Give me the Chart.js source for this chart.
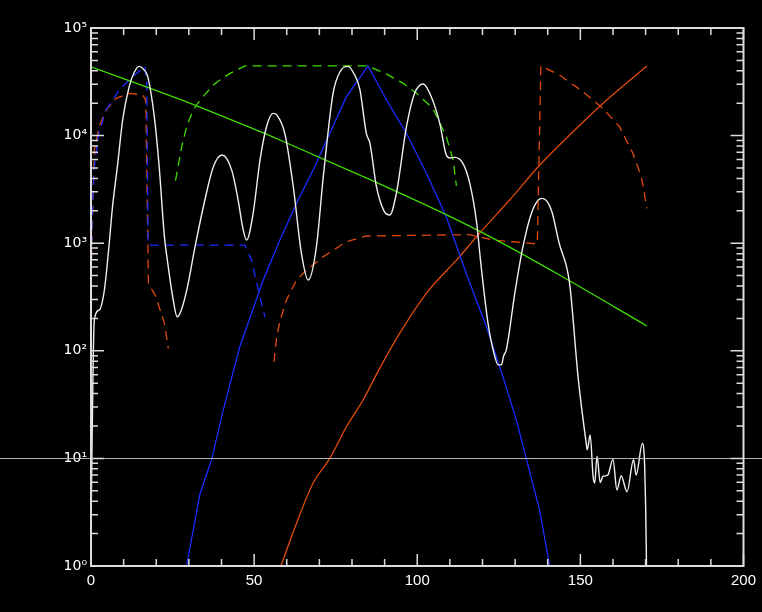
<!DOCTYPE html>
<html>
<head>
<meta charset="utf-8">
<script src="https://cdn.jsdelivr.net/npm/chart.js@4"></script>
<style>
  html, body { margin: 0; padding: 0; background: #000; }
  #wrap { width: 762px; height: 612px; }
</style>
</head>
<body>
<div id="wrap"><canvas id="c" width="762" height="612"></canvas></div>
<script>
// ---------- data ----------
const whiteX = [0, 1.0, 2.5, 4.1, 5.4, 6.6, 8.2, 9.7, 11.7, 13.3, 14.8, 16.2, 17.4, 19.4, 20.9, 22.5, 23.4, 25.2, 26.4, 27.3, 29.3, 31.9, 34.9, 37.5, 40.2, 43.1, 45.1, 46.5, 47.7, 49.7, 51.8, 53.8, 55.8, 57.0, 59.4, 62.0, 64.5, 66.6, 69.1, 71.2, 74.2, 76.5, 78.8, 80.5, 82.4, 84.4, 85.5, 87.5, 89.8, 91.6, 93.6, 96.7, 99.2, 101.8, 104.3, 106.9, 108.9, 110.0, 111.5, 114.0, 116.1, 118.1, 119.6, 121.7, 123.5, 124.8, 125.8, 126.5, 127.3, 129.9, 132.4, 135.0, 137.0, 138.3, 141.1, 143.5, 146.7, 149.3, 151.8, 152.1, 153.0, 153.9, 154.4, 155.1, 156.1, 156.9, 158.4, 160.0, 161.2, 162.5, 164.3, 166.3, 167.1, 169.0, 169.7, 170.0, 170.2, 170.4];
const whiteY = [2.4, 193, 239, 367, 865, 2185, 5520, 13960, 28500, 39000, 44000, 41000, 35300, 15000, 5140, 1150, 698, 297, 207, 223, 360, 929, 2520, 5140, 6600, 4800, 2520, 1400, 1070, 1900, 5930, 12100, 16100, 15500, 10500, 3350, 805, 455, 929, 4150, 24700, 40000, 44000, 38000, 27000, 10500, 8480, 3350, 2000, 1830, 2910, 12100, 24700, 30200, 23000, 13000, 6600, 6200, 6280, 5520, 3600, 1640, 605, 180, 95, 74, 74, 90, 102, 342, 929, 1900, 2500, 2610, 2035, 1000, 424, 57, 13.8, 12, 16.5, 6.8, 5.9, 10.5, 5.95, 6.8, 7.0, 9.8, 5.1, 6.9, 4.9, 9.7, 7.0, 13.8, 8.7, 3.7, 1.5, 0.5];

const greenX = [0, 27.3, 48.7, 57.9, 82.4, 107.9, 125.3, 143.6, 170.4];
const greenY = [43600, 21700, 11900, 9100, 4300, 1900, 1030, 506, 170];

const blueX = [29.3, 33.4, 37.0, 40.5, 45.6, 52.8, 57.9, 63.0, 68.1, 73.2, 78.3, 84.9, 90.6, 96.7, 102.8, 108.9, 115.0, 121.2, 126.3, 130.4, 133.4, 137.5, 140.6];
const blueY = [1.0, 4.7, 9.8, 28, 109, 455, 1070, 2350, 4790, 10500, 23000, 44400, 21400, 10500, 4460, 1760, 525, 167, 57, 22.7, 10.0, 3.3, 1.0];

const orangeX = [58.2, 63.0, 68.1, 73.2, 78.3, 83.4, 88.4, 94.6, 102.8, 113.0, 119.1, 128.3, 137.5, 143.6, 156.9, 170.4];
const orangeY = [1.0, 2.5, 5.9, 10, 19.7, 34.9, 68, 145, 342, 750, 1236, 2520, 5300, 8180, 19900, 44400];

const greenDashX = [25.9, 27.8, 29.3, 31.3, 33.4, 37.5, 39.5, 42.6, 47.2, 84.9, 90.6, 95.7, 99.8, 104.8, 108.9, 111.0, 112.0];
const greenDashY = [3810, 7890, 12100, 17300, 21400, 29500, 32900, 37900, 44400, 44400, 37300, 30600, 24700, 17900, 9770, 5930, 3400];

const blueDashX = [0, 0.4, 1.0, 2.2, 4.6, 6.0, 8.8, 12.8, 16.5, 17.1, 17.5, 47.2, 49.2, 51.0, 53.3];
const blueDashY = [370, 2000, 5000, 10000, 17300, 20000, 27000, 35300, 43700, 30600, 960, 960, 698, 400, 207];

const orangeDashAX = [0, 0.5, 1.0, 2.5, 4.6, 7.7, 11.7, 15.8, 16.8, 17.6, 19.9, 22.5, 23.7];
const orangeDashAY = [370, 1760, 7350, 12100, 17300, 22200, 24700, 23900, 21400, 424, 318, 180, 105];

const orangeDashBX = [56.1, 56.9, 58.0, 59.9, 63.0, 66.1, 71.2, 78.3, 84.4, 116.1, 123.2, 129.3, 136.8, 137.9, 143.6, 150.8, 156.9, 162.0, 166.1, 168.7, 170.4];
const orangeDashBY = [79, 135, 193, 297, 455, 563, 750, 1032, 1167, 1200, 1070, 1032, 984, 44400, 36600, 25600, 17900, 12100, 6840, 4150, 2110];

const xTickLabels = [0, 50, 100, 150, 200];
const yDecades = [1, 10, 100, 1000, 10000, 100000];
const supDigits = ['\u2070', '\u00B9', '\u00B2', '\u00B3', '\u2074', '\u2075'];

// ---------- helpers ----------
const pts = (xs, ys) => xs.map((x, i) => ({ x: x, y: ys[i] }));
const line = (xs, ys, color, dash, width, smooth) => ({
  data: pts(xs, ys), borderColor: color, backgroundColor: color,
  borderWidth: width || 1.3, borderDash: dash || [], pointRadius: 0,
  showLine: true, fill: false, tension: 0,
  cubicInterpolationMode: smooth ? 'monotone' : 'default'
});

const WHITE = '#f0f0f0';
const GREEN = '#3fdc00';
const BLUE = '#1a2cff';
const ORANGE = '#e04a0c';
const DASH = [9, 6];

const framePlugin = {
  id: 'frame',
  beforeDraw(chart) {
    const ctx = chart.ctx;
    ctx.save();
    ctx.fillStyle = '#000';
    ctx.fillRect(0, 0, chart.width, chart.height);
    ctx.restore();
  },
  afterDraw(chart) {
    const ctx = chart.ctx;
    const a = chart.chartArea;
    const xs = chart.scales.x, ys = chart.scales.y;
    ctx.save();
    // horizontal line at 10 across the whole canvas
    const y10 = Math.round(ys.getPixelForValue(10)) + 0.5;
    ctx.strokeStyle = '#b4b4b4';
    ctx.lineWidth = 1;
    ctx.beginPath(); ctx.moveTo(0, y10); ctx.lineTo(chart.width, y10); ctx.stroke();
    // box
    ctx.strokeStyle = '#dcdcdc';
    ctx.lineWidth = 2;
    ctx.strokeRect(a.left, a.top, a.right - a.left, a.bottom - a.top);
    // y ticks
    ctx.lineWidth = 1.5;
    ctx.beginPath();
    for (let d = 0; d < 5; d++) {
      for (let m = 1; m <= 9; m++) {
        const v = m * Math.pow(10, d);
        const p = ys.getPixelForValue(v);
        const len = m === 1 ? 13 : 7;
        ctx.moveTo(a.left, p); ctx.lineTo(a.left + len, p);
        ctx.moveTo(a.right, p); ctx.lineTo(a.right - len, p);
      }
    }
    // x ticks
    for (let v = 0; v <= 200; v += 10) {
      const p = xs.getPixelForValue(v);
      const len = v % 50 === 0 ? 12 : 7;
      ctx.moveTo(p, a.bottom); ctx.lineTo(p, a.bottom - len);
      ctx.moveTo(p, a.top); ctx.lineTo(p, a.top + len);
    }
    ctx.stroke();
    ctx.restore();
  }
};

new Chart(document.getElementById('c'), {
  type: 'scatter',
  data: {
    datasets: [
      line(whiteX, whiteY, WHITE, [], 1.4, true),
      line(greenX, greenY, GREEN, [], 1.3, true),
      line(blueX, blueY, BLUE, [], 1.3, false),
      line(orangeX, orangeY, ORANGE, [], 1.3, true),
      line(greenDashX, greenDashY, GREEN, DASH),
      line(blueDashX, blueDashY, BLUE, DASH),
      line(orangeDashAX, orangeDashAY, ORANGE, DASH),
      line(orangeDashBX, orangeDashBY, ORANGE, DASH)
    ]
  },
  options: {
    responsive: false,
    animation: false,
    events: [],
    layout: { padding: { top: 28, right: 18, left: 0, bottom: 0 } },
    plugins: { legend: { display: false }, tooltip: { enabled: false }, title: { display: false } },
    scales: {
      x: {
        type: 'linear', min: 0, max: 200,
        afterBuildTicks: s => { s.ticks = xTickLabels.map(v => ({ value: v })); },
        ticks: { color: '#ffffff', font: { family: 'Liberation Sans, DejaVu Sans', size: 15 }, padding: 6, maxRotation: 0, autoSkip: false },
        grid: { display: false, drawTicks: false },
        border: { display: false },
        afterFit: s => { s.height = 46; }
      },
      y: {
        type: 'logarithmic', min: 1, max: 100000,
        afterBuildTicks: s => { s.ticks = yDecades.map(v => ({ value: v })); },
        ticks: {
          color: '#ffffff', font: { family: 'DejaVu Sans', size: 14 }, padding: 4, autoSkip: false,
          callback: v => '10' + supDigits[Math.round(Math.log10(v))]
        },
        grid: { display: false, drawTicks: false },
        border: { display: false },
        afterFit: s => { s.width = 91; }
      }
    }
  },
  plugins: [framePlugin]
});
</script>
</body>
</html>
